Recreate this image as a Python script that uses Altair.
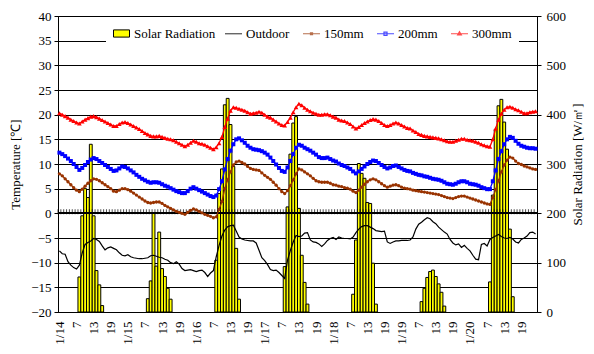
import json
import altair as alt
import pandas as pd

# ---------------- data (hourly, 1/14 1:00 ... 1/20 24:00) ----------------
tick_labels = ["1/14", "7", "13", "19", "1/15", "7", "13", "19",
               "1/16", "7", "13", "19", "1/17", "7", "13", "19",
               "1/18", "7", "13", "19", "1/19", "7", "13", "19",
               "1/20", "7", "13", "19"]

solar = [
    0, 0, 0, 0, 0, 0, 0, 71, 195, 250, 232, 340, 195, 84, 55, 13, 0, 0, 0, 0, 0, 0, 0, 0,
    0, 0, 0, 0, 0, 0, 0, 27, 63, 200, 93, 162, 88, 72, 48, 26, 0, 0, 0, 0, 0, 0, 0, 0,
    0, 0, 0, 0, 0, 0, 0, 105, 240, 290, 420, 433, 380, 295, 129, 26, 0, 0, 0, 0, 0, 0, 0, 0,
    0, 0, 0, 0, 0, 0, 0, 92, 213, 320, 383, 396, 210, 115, 60, 16, 0, 0, 0, 0, 0, 0, 0, 0,
    0, 0, 0, 0, 0, 0, 0, 36, 146, 301, 281, 271, 222, 220, 99, 16, 0, 0, 0, 0, 0, 0, 0, 0,
    0, 0, 0, 0, 0, 0, 0, 21, 48, 70, 82, 85, 72, 57, 40, 12, 0, 0, 0, 0, 0, 0, 0, 0,
    0, 0, 0, 0, 0, 0, 0, 61, 237, 370, 418, 431, 385, 330, 168, 31, 0, 0, 0, 0, 0, 0, 0, 0,
]

outdoor = [
    -7.6, -8.2, -8.3, -9.8, -10.5, -11.0, -11.3, -10.5, -8.0, -6.3, -5.9, -5.6, -5.1, -5.3, -5.7, -6.6, -7.4, -7.0, -6.8, -7.1, -7.4, -8.0, -8.5, -8.6,
    -8.4, -8.8, -9.0, -9.1, -9.2, -9.2, -9.1, -9.0, -8.6, -8.5, -8.7, -8.9, -9.0, -9.3, -9.5, -10.0, -10.2, -9.8, -10.3, -11.2, -11.6, -11.5, -11.4, -11.6,
    -11.8, -11.6, -11.5, -12.0, -12.8, -12.1, -11.6, -8.8, -6.5, -4.6, -3.4, -2.7, -2.5, -2.4, -3.6, -4.8, -5.2, -5.4, -5.5, -5.6, -5.6, -6.0, -7.5, -9.0,
    -9.6, -10.4, -11.4, -11.6, -11.5, -12.0, -12.6, -13.2, -9.5, -7.5, -5.8, -4.5, -4.7, -4.6, -4.0, -3.9, -5.4, -5.8, -5.9, -6.2, -6.7, -6.2, -5.5, -5.1,
    -4.9, -5.3, -4.8, -5.0, -5.1, -5.1, -5.2, -4.8, -3.9, -3.2, -2.7, -2.5, -2.5, -2.8, -3.1, -3.5, -3.6, -3.7, -3.6, -5.8, -6.1, -5.8, -5.6, -5.6,
    -5.5, -5.5, -5.5, -5.4, -4.8, -3.2, -2.2, -1.8, -1.3, -0.9, -1.1, -1.7, -2.1, -2.8, -3.3, -3.8, -4.2, -5.3, -6.0, -6.4, -6.2, -6.9, -6.5, -7.1,
    -7.6, -8.5, -9.3, -9.4, -6.3, -6.1, -6.6, -5.3, -4.9, -4.6, -4.3, -4.7, -5.0, -5.1, -4.9, -5.2, -5.8, -6.0, -5.3, -5.0, -4.6, -3.9, -3.8, -4.2,
]

t150 = [
    8.0, 7.6, 7.0, 6.4, 5.8, 5.2, 4.7, 4.4, 4.9, 5.5, 6.1, 6.6, 7.0, 6.9, 6.6, 6.2, 5.8, 5.4, 5.0, 4.5, 4.4, 4.7, 5.0, 5.0,
    4.8, 4.5, 4.1, 3.7, 3.3, 2.9, 2.5, 2.2, 2.1, 2.2, 2.3, 2.3, 2.0, 1.6, 1.3, 1.0, 0.7, 0.4, 0.2, 0.0, -0.2, 0.2, 0.6, 0.9,
    0.7, 0.4, 0.1, -0.2, -0.4, -0.6, -0.9, -0.7, 0.8, 2.4, 5.0, 6.8, 8.4, 9.8, 10.4, 10.6, 10.3, 10.0, 9.5, 9.1, 8.9, 8.8, 8.7, 8.2,
    7.7, 7.3, 6.9, 6.3, 5.7, 5.0, 4.4, 4.0, 4.6, 5.6, 6.8, 8.0, 9.0, 8.8, 8.4, 8.0, 7.6, 7.1, 6.6, 6.4, 6.3, 6.3, 6.3, 6.1,
    5.8, 5.7, 5.5, 5.4, 5.2, 5.1, 4.9, 4.5, 4.2, 4.7, 5.3, 5.9, 6.4, 6.8, 7.0, 6.8, 6.4, 6.0, 5.6, 5.3, 5.5, 5.7, 5.8, 5.6,
    5.3, 5.1, 5.0, 4.9, 4.7, 4.6, 4.5, 4.4, 4.3, 4.2, 4.1, 4.0, 3.9, 3.8, 3.6, 3.4, 3.2, 3.1, 3.0, 3.2, 3.4, 3.5, 3.5, 3.3,
    3.1, 2.9, 2.7, 2.5, 2.3, 2.1, 1.9, 1.8, 3.2, 4.8, 6.6, 8.4, 9.8, 10.8, 11.4, 11.2, 10.6, 10.1, 9.9, 9.6, 9.4, 9.2, 9.0, 8.9,
]

t200 = [
    12.3, 12.0, 11.6, 11.1, 10.6, 10.0, 9.4, 8.8, 9.2, 9.8, 10.4, 10.9, 11.2, 11.0, 10.6, 10.2, 9.8, 9.4, 9.0, 8.6, 8.7, 9.1, 9.5, 9.4,
    9.1, 8.7, 8.3, 7.8, 7.4, 7.0, 6.7, 6.4, 6.2, 6.3, 6.3, 6.2, 5.9, 5.6, 5.4, 5.1, 4.8, 4.5, 4.3, 4.1, 4.1, 4.5, 5.0, 5.3,
    5.0, 4.7, 4.4, 4.1, 3.8, 3.5, 3.3, 3.6, 4.9, 6.5, 8.9, 11.0, 12.7, 14.0, 15.0, 15.2, 14.8, 14.3, 13.7, 13.3, 13.0, 12.9, 12.8, 12.6,
    12.3, 11.9, 11.3, 10.6, 9.9, 9.2, 8.6, 8.4, 9.3, 10.6, 12.0, 13.3, 13.9, 13.7, 13.3, 13.0, 12.7, 12.3, 11.9, 11.4, 11.2, 11.2, 11.3, 11.0,
    10.7, 10.5, 10.1, 9.8, 9.6, 9.3, 9.0, 8.5, 8.1, 8.5, 9.0, 9.5, 10.0, 10.4, 10.7, 10.6, 10.2, 9.8, 9.4, 9.1, 9.3, 9.6, 9.7, 9.4,
    9.1, 8.8, 8.6, 8.5, 8.2, 8.0, 7.8, 7.7, 7.5, 7.4, 7.2, 7.0, 6.9, 6.8, 6.6, 6.3, 6.0, 5.9, 5.8, 6.0, 6.3, 6.5, 6.5, 6.3,
    6.0, 5.9, 5.8, 5.6, 5.3, 5.1, 4.9, 4.9, 6.5, 8.7, 11.0, 12.6, 14.0, 15.0, 15.5, 15.3, 14.7, 14.1, 13.7, 13.5, 13.3, 13.2, 13.2, 13.1,
]

t300 = [
    20.3, 20.0, 19.7, 19.4, 19.0, 18.7, 18.4, 18.2, 18.6, 19.0, 19.3, 19.6, 19.7, 19.5, 19.2, 18.9, 18.6, 18.3, 18.0, 17.7, 17.7, 18.1, 18.4, 18.5,
    18.3, 18.0, 17.7, 17.4, 17.1, 16.7, 16.3, 16.0, 15.7, 15.6, 15.6, 15.7, 15.5, 15.3, 15.1, 15.0, 14.8, 14.5, 14.2, 13.9, 13.6, 13.9, 14.3, 14.7,
    14.5, 14.2, 14.1, 13.9, 13.6, 13.3, 13.0, 13.4, 14.2, 15.5, 17.5, 19.2, 20.8, 21.5, 21.4, 21.2, 21.0, 20.8, 20.5, 20.2, 20.3, 20.4, 20.6, 20.4,
    20.0, 19.6, 19.4, 19.0, 18.6, 18.2, 17.9, 17.8, 18.5, 19.4, 20.5, 21.5, 22.2, 21.9, 21.4, 21.0, 20.7, 20.4, 20.2, 20.0, 20.0, 20.1, 20.1, 19.9,
    19.6, 19.4, 19.0, 18.8, 18.7, 18.4, 18.1, 17.6, 17.2, 17.5, 17.9, 18.3, 18.6, 18.9, 19.1, 19.0, 18.7, 18.3, 17.9, 17.7, 17.9, 18.2, 18.4, 18.2,
    17.9, 17.6, 17.3, 17.2, 16.8, 16.5, 16.1, 15.9, 15.7, 15.6, 15.5, 15.4, 15.3, 15.2, 15.0, 14.8, 14.6, 14.5, 14.5, 14.7, 14.9, 15.1, 15.1, 14.9,
    14.8, 14.7, 14.5, 14.3, 14.0, 13.8, 13.6, 13.5, 15.0, 17.2, 19.0, 20.2, 21.0, 21.5, 21.6, 21.4, 21.1, 20.9, 20.6, 20.3, 20.3, 20.5, 20.6, 20.7,
]

series_names = ["Outdoor", "150mm", "200mm", "300mm"]
series_colors = ["#000000", "#993300", "#0000FF", "#FF0000"]

# ---------------- frames ----------------
n = len(solar)
hours = list(range(n))
solar_df = pd.DataFrame({"i": hours, "solar": solar})
temp_df = pd.DataFrame({
    "i": hours * 4,
    "series": sum([[s] * n for s in series_names], []),
    "temp": outdoor + t150 + t200 + t300,
})

FONT = "Liberation Serif"

x_scale = alt.Scale(domain=[0, n], nice=False, zero=False)
y_scale = alt.Scale(domain=[-20, 40], nice=False, zero=False)
s_scale = alt.Scale(domain=[0, 600], nice=False, zero=True)

label_expr = json.dumps(tick_labels) + "[round((datum.value - 0.5) / 6)]"
x_axis = alt.Axis(
    values=[6 * k + 0.5 for k in range(len(tick_labels))],
    labelExpr=label_expr, labelAngle=270, labelFlush=False, labelOverlap=False,
    ticks=False, domain=False, grid=False, labelPadding=9,
    labelFont=FONT, labelFontSize=13, labelColor="black", title=None,
)
y_axis = alt.Axis(
    values=list(range(-20, 45, 5)), grid=True, gridColor="black", gridOpacity=1, gridWidth=1,
    domain=True, domainColor="black", ticks=True, tickSize=4, tickColor="black",
    labelFont=FONT, labelFontSize=13, labelColor="black", labelPadding=3,
    title="Temperature [℃]", titleFont=FONT, titleFontSize=13, titleFontWeight="normal",
    titleColor="black", titlePadding=8,
)
s_axis = alt.Axis(
    orient="right", values=list(range(0, 700, 100)), grid=False,
    domain=True, domainColor="black", ticks=True, tickSize=4, tickColor="black",
    labelFont=FONT, labelFontSize=13, labelColor="black", labelPadding=5,
    title="Solar Radiation [W/㎡]", titleFont=FONT, titleFontSize=13, titleFontWeight="normal",
    titleColor="black", titlePadding=6, titleAngle=270, titleBaseline="top",
)

x_c = alt.X("xc:Q", scale=x_scale, axis=x_axis)
y_t = alt.Y("temp:Q", scale=y_scale, axis=y_axis)

leg_solar = alt.Legend(
    orient="none", legendX=48, legendY=2, direction="horizontal", title=None,
    symbolType="M-1,-0.45H1V0.45H-1Z", symbolSize=256, symbolStrokeColor="black",
    symbolStrokeWidth=1, labelOffset=4, padding=7, fillColor="white",
    labelFont=FONT, labelFontSize=13, labelColor="black",
)
leg_lines = alt.Legend(
    orient="none", legendX=159, legendY=1, direction="horizontal", title=None,
    symbolSize=289, symbolStrokeWidth=1.2, labelOffset=3, columnPadding=10,
    padding=7, fillColor="white",
    labelFont=FONT, labelFontSize=13, labelColor="black",
)
legend_paths = [
    "M-1,0H1",
    "M-1,0H1M-0.12,-0.12H0.12V0.12H-0.12Z",
    "M-1,0H1M-0.18,-0.18H0.18V0.18H-0.18Z",
    "M-1,0H1M0,-0.24L0.22,0.14H-0.22Z",
]

# ---------------- layers ----------------
bars = (
    alt.Chart(solar_df)
    .transform_filter("datum.solar > 0")
    .transform_calculate(i1="datum.i + 1", lab='"Solar Radiation"')
    .mark_bar(stroke="black", strokeWidth=1)
    .encode(
        x=alt.X("i:Q", scale=x_scale, axis=x_axis),
        x2="i1:Q",
        y=alt.Y("solar:Q", scale=s_scale, axis=s_axis),
        y2=alt.Y2Datum(0),
        fill=alt.Fill("lab:N", scale=alt.Scale(domain=["Solar Radiation"], range=["#FFFF00"]),
                      legend=leg_solar),
    )
)

ticks = (
    alt.Chart(solar_df)
    .mark_tick(orient="vertical", size=5, thickness=1, color="black", yOffset=-1.5)
    .encode(x=alt.X("i:Q", scale=x_scale, axis=x_axis),
            y=alt.YDatum(0, type="quantitative", scale=y_scale, axis=y_axis))
)
zero_rule = (
    alt.Chart(solar_df)
    .mark_rule(color="black", strokeWidth=1)
    .encode(y=alt.YDatum(0, type="quantitative", scale=y_scale, axis=y_axis))
)

base_t = alt.Chart(temp_df).transform_calculate(xc="datum.i + 0.5")

marker_specs = {
    "150mm": ("circle", 11),
    "200mm": ("square", 16),
    "300mm": ("triangle-up", 22),
}

temp_layers = [ticks, zero_rule]
for name, color in zip(series_names, series_colors):
    sub = base_t.transform_filter(alt.datum.series == name)
    temp_layers.append(
        sub.mark_line(color=color, strokeWidth=1.2 if name == "Outdoor" else 1.3)
        .encode(x=x_c, y=y_t)
    )
    if name in marker_specs:
        shp, sz = marker_specs[name]
        temp_layers.append(
            sub.mark_point(filled=True, shape=shp, size=sz, color=color, opacity=1)
            .encode(x=x_c, y=y_t)
        )

legend_layer = (
    base_t.transform_filter("false")
    .mark_point(filled=False)
    .encode(
        x=x_c, y=y_t,
        stroke=alt.Stroke("series:N", scale=alt.Scale(domain=series_names, range=series_colors),
                          legend=leg_lines),
        shape=alt.Shape("series:N", scale=alt.Scale(domain=series_names, range=legend_paths),
                        legend=leg_lines),
    )
)
temp_layers.append(legend_layer)

temps = alt.layer(*temp_layers)

chart = (
    alt.layer(bars, temps)
    .resolve_scale(y="independent")
    .properties(
        width=479, height=296,
        autosize=alt.AutoSizeParams(type="none"),
        padding={"left": 50, "top": 8, "right": 49, "bottom": 38},
        background="white",
    )
    .configure_view(stroke="black", strokeWidth=1)
)

chart.save("out.html", embed_options={"renderer": "svg", "actions": False})
